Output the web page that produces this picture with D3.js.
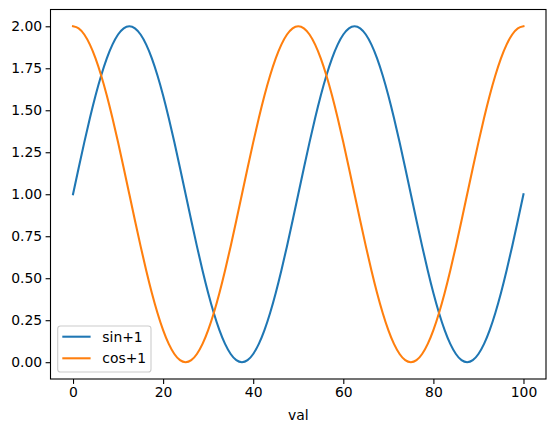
<!DOCTYPE html>
<html><head><meta charset="utf-8">
<script src="https://cdn.jsdelivr.net/npm/d3@7"></script>
<style>html,body{margin:0;padding:0;background:#fff;} text{font-family:"DejaVu Sans",sans-serif;}</style>
</head><body>
<svg id="c" width="555" height="432"></svg>
<script>
const xVals = [0,1.25,2.5,3.75,5,6.25,7.5,8.75,10,11.25,12.5,13.75,15,16.25,17.5,18.75,20,21.25,22.5,23.75,25,26.25,27.5,28.75,30,31.25,32.5,33.75,35,36.25,37.5,38.75,40,41.25,42.5,43.75,45,46.25,47.5,48.75,50,51.25,52.5,53.75,55,56.25,57.5,58.75,60,61.25,62.5,63.75,65,66.25,67.5,68.75,70,71.25,72.5,73.75,75,76.25,77.5,78.75,80,81.25,82.5,83.75,85,86.25,87.5,88.75,90,91.25,92.5,93.75,95,96.25,97.5,98.75,100];
const sinVals = [1,1.156,1.309,1.454,1.588,1.707,1.809,1.891,1.951,1.988,2,1.988,1.951,1.891,1.809,1.707,1.588,1.454,1.309,1.156,1,0.844,0.691,0.546,0.412,0.293,0.191,0.109,0.049,0.012,0,0.012,0.049,0.109,0.191,0.293,0.412,0.546,0.691,0.844,
1,1.156,1.309,1.454,1.588,1.707,1.809,1.891,1.951,1.988,2,1.988,1.951,1.891,1.809,1.707,1.588,1.454,1.309,1.156,1,0.844,0.691,0.546,0.412,0.293,0.191,0.109,0.049,0.012,0,0.012,0.049,0.109,0.191,0.293,0.412,0.546,0.691,0.844,1];
const cosVals = [2,1.988,1.951,1.891,1.809,1.707,1.588,1.454,1.309,1.156,1,0.844,0.691,0.546,0.412,0.293,0.191,0.109,0.049,0.012,0,0.012,0.049,0.109,0.191,0.293,0.412,0.546,0.691,0.844,1,1.156,1.309,1.454,1.588,1.707,1.809,1.891,1.951,1.988,
2,1.988,1.951,1.891,1.809,1.707,1.588,1.454,1.309,1.156,1,0.844,0.691,0.546,0.412,0.293,0.191,0.109,0.049,0.012,0,0.012,0.049,0.109,0.191,0.293,0.412,0.546,0.691,0.844,1,1.156,1.309,1.454,1.588,1.707,1.809,1.891,1.951,1.988,2];
const seriesNames = ["sin+1","cos+1"];
const xTicks = [0,20,40,60,80,100];
const yTicks = [0,0.25,0.5,0.75,1,1.25,1.5,1.75,2];
const xLabel = "val";

const colors = ["#1f77b4","#ff7f0e"];
const L = 50.5, R = 546, T = 9.5, B = 379;
const svg = d3.select("#c");
const x = d3.scaleLinear().domain([-5,105]).range([L,R]);
const y = d3.scaleLinear().domain([-0.1,2.1]).range([B,T]);

const line = d3.line().x((d,i)=>x(xVals[i])).y(d=>y(d)).curve(d3.curveNatural);
[sinVals,cosVals].forEach((vals,k)=>{
  svg.append("path").attr("d",line(vals)).attr("fill","none")
    .attr("stroke",colors[k]).attr("stroke-width",2.08).attr("stroke-linecap","square");
});

const fs = 13.9;
const xa = svg.append("g").attr("transform",`translate(0,${B})`)
  .call(d3.axisBottom(x).tickValues(xTicks).tickFormat(d3.format("d")).tickSize(4.9).tickPadding(3.5));
const ya = svg.append("g").attr("transform",`translate(${L},0)`)
  .call(d3.axisLeft(y).tickValues(yTicks).tickFormat(d3.format(".2f")).tickSize(4.9).tickPadding(3.5));
[xa,ya].forEach(a=>{
  a.select(".domain").remove();
  a.selectAll(".tick line").attr("stroke","#000").attr("stroke-width",1.1);
  a.selectAll(".tick text").attr("font-size",fs).attr("fill","#000").attr("font-family","DejaVu Sans");
});

svg.append("rect").attr("x",L).attr("y",T).attr("width",R-L).attr("height",B-T)
  .attr("fill","none").attr("stroke","#000").attr("stroke-width",1.1);

svg.append("text").attr("x",(L+R)/2).attr("y",420).attr("text-anchor","middle")
  .attr("font-size",fs).attr("fill","#000").text(xLabel);

// legend
const lg = svg.append("g");
lg.append("rect").attr("x",57.7).attr("y",326).attr("width",93.3).attr("height",46)
  .attr("rx",2.8).attr("fill","#fff").attr("fill-opacity",0.8).attr("stroke","#cccccc").attr("stroke-width",1.1);
seriesNames.forEach((n,k)=>{
  const yy = 336.7 + k*21.6;
  lg.append("line").attr("x1",62.3).attr("x2",90.6).attr("y1",yy).attr("y2",yy)
    .attr("stroke",colors[k]).attr("stroke-width",2.08);
  lg.append("text").attr("x",102.3).attr("y",yy+5).attr("font-size",fs).attr("fill","#000").text(n);
});
</script>
</body></html>
